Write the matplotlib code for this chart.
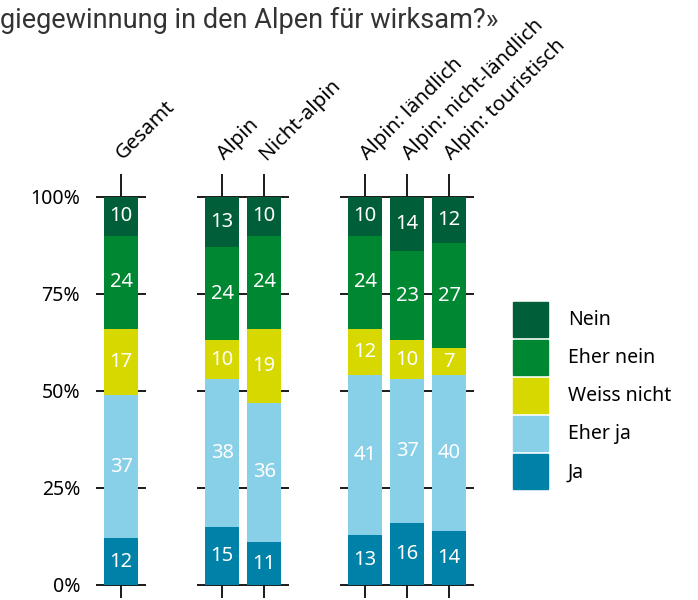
import matplotlib.pyplot as plt
from matplotlib.patches import Patch

plt.rcParams['font.family'] = ['Noto Sans', 'DejaVu Sans']

# answer categories, bottom to top of each stack
answers = ["Ja", "Eher ja", "Weiss nicht", "Eher nein", "Nein"]
colors = ["#0081a7", "#88cfe8", "#d7d800", "#008732", "#005f38"]

# three groups of bars
groups = [
    ["Gesamt"],
    ["Alpin", "Nicht-alpin"],
    ["Alpin: ländlich", "Alpin: nicht-ländlich", "Alpin: touristisch"],
]

ja = [12, 15, 11, 13, 16, 14]
eher_ja = [37, 38, 36, 41, 37, 40]
weiss_nicht = [17, 10, 19, 12, 10, 7]
eher_nein = [24, 24, 24, 24, 23, 27]
nein = [10, 13, 10, 10, 14, 12]

series = [ja, eher_ja, weiss_nicht, eher_nein, nein]

W, H = 698, 600
fig = plt.figure(figsize=(W / 100, H / 100), dpi=100)

fig.text(0, 1 - 28 / H, "giegewinnung in den Alpen für wirksam?»",
         fontsize=19.5, color="#333333", family="Roboto", ha="left", va="baseline")

fs = 14
unit = 42  # px per bar slot
lefts = [96, 197, 340]
bottom_px, top_px = 598, 174
idx = 0
for g, names in enumerate(groups):
    n = len(names)
    ax = fig.add_axes([lefts[g] / W, 1 - bottom_px / H, (n + 0.2) * unit / W, (bottom_px - top_px) / H])
    xs = list(range(n))
    base = [0] * n
    for s, vals in enumerate(series):
        v = vals[idx:idx + n]
        ax.bar(xs, v, bottom=base, width=0.8, color=colors[s], zorder=3)
        for x, b, val in zip(xs, base, v):
            ax.text(x, b + val / 2, str(val), ha="center", va="center",
                    color="white", fontsize=14.5, zorder=4)
        base = [b + val for b, val in zip(base, v)]
    idx += n

    # category names above the bars, rotated
    for x, name in zip(xs, names):
        ax.annotate(name, xy=(x, 1), xycoords=("data", "axes fraction"),
                    xytext=(1.4, 10), textcoords="offset points",
                    rotation=45, rotation_mode="anchor", ha="left", va="baseline",
                    fontsize=14.8)

    ax.set_xlim(-0.6, n - 0.4)
    ax.set_ylim(-3.35, 105.9)
    ax.set_yticks([0, 25, 50, 75, 100])
    ax.set_xticks(xs)
    ax.set_xticklabels([])
    ax.tick_params(axis="x", length=0)
    ax.tick_params(axis="y", length=0, pad=11.5, labelsize=fs)
    if g == 0:
        ax.set_yticklabels(["0%", "25%", "50%", "75%", "100%"])
    else:
        ax.set_yticklabels([])
    ax.grid(True, color="#1a1a1a", linewidth=1.4)
    ax.set_axisbelow(True)
    for sp in ax.spines.values():
        sp.set_visible(False)

handles = [Patch(color=c, label=a) for a, c in zip(answers, colors)][::-1]
box_pt = 35 * 0.72
hh = (box_pt / fs - 0.245) / 0.65
fig.legend(handles=handles, loc="upper left", bbox_to_anchor=(513 / W, 1 - 302 / H),
           frameon=False, fontsize=fs, borderpad=0, borderaxespad=0,
           handlelength=box_pt / fs, handleheight=hh, labelspacing=3 * 0.72 / fs,
           handletextpad=20 * 0.72 / fs)

fig.savefig("out.png", dpi=100)
